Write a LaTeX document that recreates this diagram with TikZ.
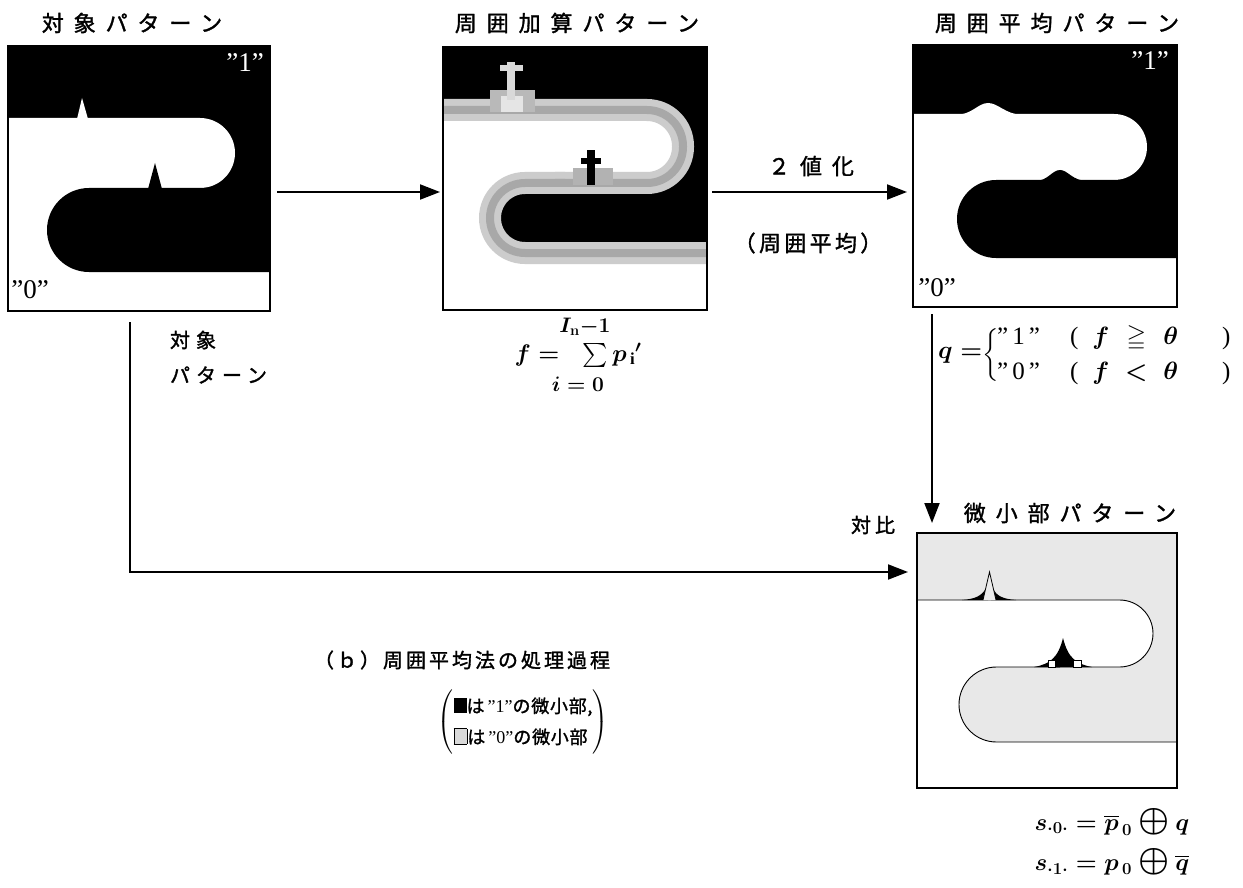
\RequirePackage{fix-cm}
\documentclass[tikz,border=0pt]{standalone}
\usepackage{amsmath,amssymb}
\usepackage{fontspec}
\setmainfont{Liberation Serif}
\usetikzlibrary{arrows.meta}
\newfontfamily\jp[FakeBold=1.5]{Noto Sans CJK JP}
\newcommand\jpf[2]{\fontsize{#1}{#1}\selectfont\jp\addfontfeature{LetterSpace=#2}}
\newcommand\lmf[1]{\fontsize{#1}{#1}\selectfont}
\newcommand\bigop{\mathbin{\scalebox{1.45}{$\oplus$}}}
\begin{document}
\begin{tikzpicture}[x=1pt,y=-1pt,
  every node/.style={inner sep=0pt,outer sep=0pt},
  pbox/.style={draw=black,line width=2.6pt},
  arr/.style={line width=2pt,-{Triangle[length=20pt,width=15pt]}},
  sline/.style={line width=0.9pt},
  dotc/.style={fill=black!9},
  blurA/.style={draw=gray!40,line width=22pt},
  blurB/.style={draw=gray!68,line width=8pt},
  mth/.style={font=\lmf{#1}\boldmath}]
\useasboundingbox (0,0) rectangle (1243,888);
\fill[white] (0,0) rectangle (1243,888);

% ---------- panel 1 contents
\begin{scope}
\clip (8,46) rectangle (270,311);
\fill[black] (8,46) rectangle (270,311);
\fill[white, rounded corners=35pt] (-50,118) -- (235,118) -- (235,188) -- (-50,188) -- cycle;
\fill[white] (77,119) -- (82,98) -- (88,119) -- cycle;
\fill[white] (0,188) rectangle (290,320);
\fill[black, rounded corners=42pt] (47,188) -- (360,188) -- (360,272) -- (47,272) -- cycle;
\fill[black] (148,189) -- (155,163) -- (162,189) -- cycle;
\end{scope}

% ---------- panel 2 contents (blurred)
\begin{scope}[xshift=435pt]
\clip (8,47) rectangle (272,310);
\fill[black] (8,47) rectangle (272,310);
\fill[white, rounded corners=36pt] (-50,110) -- (248,110) -- (248,183) -- (-50,183) -- cycle;
\fill[white] (0,183) rectangle (290,320);
\fill[black, rounded corners=35pt] (55,183) -- (360,183) -- (360,253) -- (55,253) -- cycle;
\draw[blurA, rounded corners=36pt] (-50,110) -- (248,110) -- (248,183) -- (120,183);
\draw[blurA, rounded corners=35pt] (130,183) -- (55,183) -- (55,253) -- (360,253);
\draw[blurB, rounded corners=36pt] (-50,110) -- (248,110) -- (248,183) -- (120,183);
\draw[blurB, rounded corners=35pt] (130,183) -- (55,183) -- (55,253) -- (360,253);
\fill[gray!55] (55,112) rectangle (100,90);
\fill[gray!20] (66,96) rectangle (88,112);
\fill[white!85!black] (72,62) rectangle (80,100);
\fill[white!85!black] (65,65) rectangle (88,71);
\fill[gray!60] (138,185) rectangle (178,168);
\fill[black] (152,150) rectangle (160,185);
\fill[black] (146,158) rectangle (166,164);
\end{scope}

% ---------- panel 3 contents
\begin{scope}
\clip (913,45) rectangle (1177,307);
\fill[black] (913,45) rectangle (1177,307);
\fill[white, rounded corners=33pt] (880,114) -- (1147,114) -- (1147,180) -- (880,180) -- cycle;
\fill[white] (955,115) .. controls (972,115) and (978,103) .. (988,103) .. controls (998,103) and (1005,114) .. (1022,115) -- cycle;
\fill[white] (900,180) rectangle (1190,320);
\fill[black, rounded corners=39pt] (957,180) -- (1260,180) -- (1260,258) -- (957,258) -- cycle;
\fill[black] (1035,181) .. controls (1048,181) and (1052,170) .. (1060,170) .. controls (1068,170) and (1072,181) .. (1088,181) -- cycle;
\end{scope}

% ---------- panel 4 contents
\begin{scope}
\clip (917,533) rectangle (1177,788);
\fill[white] (917,533) rectangle (1177,788);
\fill[dotc] (917,533) rectangle (1177,788);
\fill[white, rounded corners=33.5pt] (880,600) -- (1153,600) -- (1153,667) -- (880,667) -- cycle;
\fill[white] (900,667) rectangle (1190,800);
\fill[dotc, rounded corners=37.5pt] (959,667) -- (1260,667) -- (1260,742) -- (959,742) -- cycle;
\draw[sline, rounded corners=33.5pt] (880,600) -- (1153,600) -- (1153,667) -- (1050,667);
\draw[sline, rounded corners=37.5pt] (1060,667) -- (959,667) -- (959,742) -- (1260,742);
\fill[black] (962,600) .. controls (975,599) and (982,596) .. (986,588) -- (988,600) -- cycle;
\fill[black] (1016,600) .. controls (1003,599) and (996,596) .. (993,588) -- (991,600) -- cycle;
\filldraw[fill=black!8, draw=black, line width=0.8pt] (983,600) -- (989.5,572) -- (996,600);
\fill[black] (1034,667) .. controls (1050,664) and (1058,658) .. (1063,638) .. controls (1068,658) and (1076,664) .. (1092,667) -- cycle;
\filldraw[fill=white, draw=black, line width=0.6pt] (1048,667) rectangle (1055,660);
\filldraw[fill=white, draw=black, line width=0.6pt] (1073,667) rectangle (1081,660);
\end{scope}

% ---------- panel frames
\node[pbox, minimum width=262pt, minimum height=265pt] (p1) at (139,178.5) {};
\node[pbox, minimum width=264pt, minimum height=263pt] (p2) at (575,178.5) {};
\node[pbox, minimum width=264pt, minimum height=262pt] (p3) at (1045,176) {};
\node[pbox, minimum width=260pt, minimum height=255pt] (p4) at (1047,660.5) {};

% ---------- titles
\node[font=\jpf{22}{45}] (t1) at (132,23) {対象パターン};
\node[font=\jpf{22}{45}] (t2) at (577,23) {周囲加算パターン};
\node[font=\jpf{22}{45}] (t3) at (1057,23) {周囲平均パターン};
\node[font=\jpf{22}{45}] (t4) at (1070,513) {微小部パターン};

% ---------- in-panel labels
\node[font=\lmf{27}, text=white] (p1one) at (245,63) {''1''};
\node[font=\lmf{27}] (p1zero) at (30,290) {''0''};
\node[font=\lmf{27}, text=white] (p3one) at (1150,61) {''1''};
\node[font=\lmf{27}] (p3zero) at (937,288) {''0''};

% ---------- connectors
\coordinate (ay) at (0,192);
\coordinate (vx) at (932,0);
\coordinate (hy) at (0,572);
\coordinate (a4s) at (130,322);
\draw[arr, shorten <=7pt, shorten >=3pt] (p1.east |- ay) -- (p2.west |- ay);
\draw[arr, shorten <=5pt, shorten >=6pt] (p2.east |- ay) -- (p3.west |- ay);
\draw[arr, shorten <=7pt, shorten >=10pt] (p3.south -| vx) -- (p4.north -| vx);
\draw[arr, shorten >=9pt] (a4s) |- (p4.west |- hy);

% ---------- other labels
\node[font=\jpf{20}{30}, anchor=west] (lab1) at (170,340) {対象};
\node[font=\jpf{20}{30}, anchor=west] (lab2) at (170,375) {パターン};
\node[font=\jpf{22}{45}] (bin) at (811,166) {２値化};
\node[font=\jpf{22}{15}] (binp) at (808,243) {（周囲平均）};
\node[font=\jpf{20}{20}] (cmp) at (873,525) {対比};

\node[mth=21] (sumup) at (585,327) {$I_{\mathbf{n}}{-}1$};
\node[mth=24] (sumf) at (578,355) {$f=\;\;{\textstyle\sum}\,p_{\,\mathrm{i}}{}'$};
\node[mth=21] (sumlo) at (578,384) {$i=0$};

\node[mth=25, anchor=west] (qeq) at (938,355) {$q=$};
\node[font=\lmf{22}, anchor=west] (qbr) at (982,355) {$\left\{\rule[-21pt]{0pt}{42pt}\right.$};
\node[mth=25, anchor=west] (q1) at (997,338) {''\,1\,''\hspace{30pt}(\hspace{14pt}$f$\makebox[54pt]{$\geqq$}$\theta$\hspace{44pt})};
\node[mth=25, anchor=west] (q0) at (997,373) {''\,0\,''\hspace{30pt}(\hspace{14pt}$f$\makebox[54pt]{$<$}$\theta$\hspace{44pt})};

\node[font=\jpf{20}{15}] (cap) at (462,660) {（ｂ）周囲平均法の処理過程};
\node[font=\fontsize{18}{31}\selectfont] (note) at (523,722) {$\left(\begin{tabular}{@{}l@{}}\jpf{18}{4}\rule{13pt}{15pt}は\,{\rmfamily''1''}の微小部,\\ \jpf{18}{4}{\setlength\fboxsep{0pt}\fcolorbox{black}{black!15}{\rule{0pt}{15pt}\hspace{13pt}}}は\,{\rmfamily''0''}の微小部\hspace{16pt}\end{tabular}\right)$};

\node[mth=24] (s0) at (1112,822) {$s_{\cdot 0\cdot}=\overline{p}_{\,0}\bigop q$};
\node[mth=24] (s1) at (1112,862) {$s_{\cdot 1\cdot}=p_{\,0}\bigop\overline{q}$};
\end{tikzpicture}
\end{document}
